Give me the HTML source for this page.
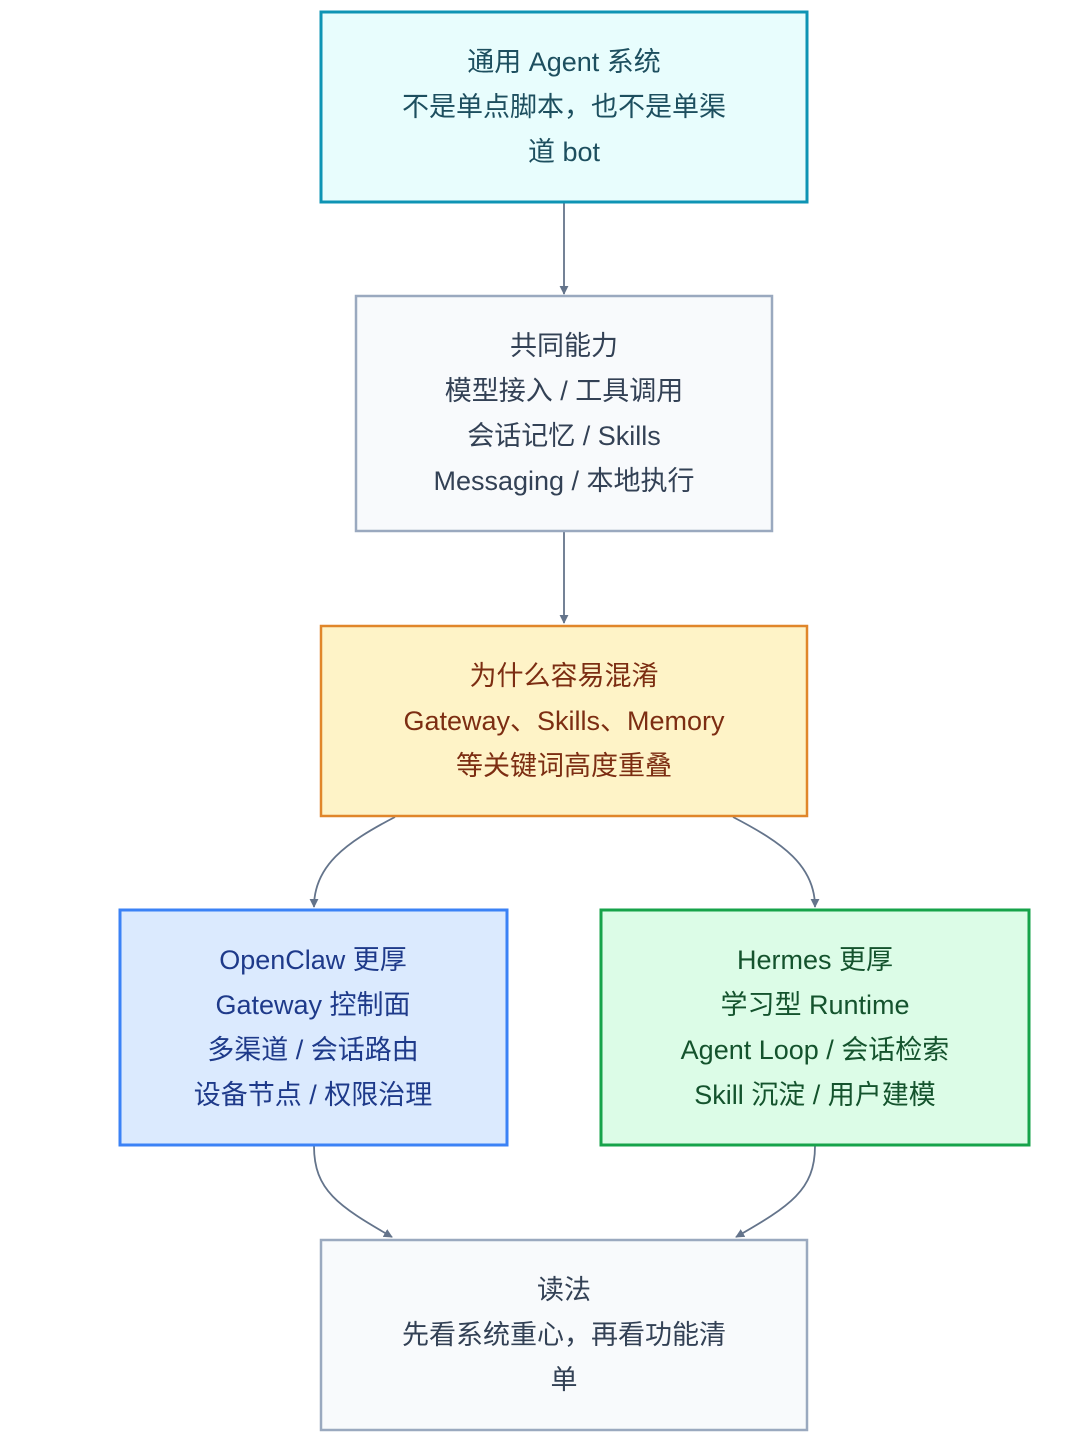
<!DOCTYPE html>
<html><head><meta charset="utf-8">
<style>
html,body{margin:0;padding:0;background:#fff;}
svg{display:block;}
text{font-family:"Liberation Sans","Noto Sans CJK SC",sans-serif;font-size:27px;text-anchor:middle;dominant-baseline:central;}
</style></head>
<body>
<svg width="1080" height="1447" viewBox="0 0 1080 1447" xmlns="http://www.w3.org/2000/svg">
<defs>
<marker id="a" viewBox="0 0 10 10" refX="9" refY="5" markerWidth="9" markerHeight="9" markerUnits="userSpaceOnUse" orient="auto">
<path d="M0,0 L10,5 L0,10 z" fill="#64748b"/>
</marker>
</defs>
<g fill="none" stroke="#64748b" stroke-width="1.8">
<path d="M564 203 L564 294" marker-end="url(#a)"/>
<path d="M564 532 L564 623" marker-end="url(#a)"/>
<path d="M395 817 C345 843 314 866 314 907" marker-end="url(#a)"/>
<path d="M733 817 C783 843 815 866 815 907" marker-end="url(#a)"/>
<path d="M314 1146 C314 1190 338 1206 392 1237" marker-end="url(#a)"/>
<path d="M815 1146 C815 1190 790 1206 736 1237" marker-end="url(#a)"/>
</g>
<rect x="321" y="12" width="486" height="190" fill="#e8fdfd" stroke="#0e94b4" stroke-width="3"/>
<rect x="356" y="296" width="416" height="235" fill="#f8fafc" stroke="#9aa9bf" stroke-width="2.5"/>
<rect x="321" y="626" width="486" height="190" fill="#fef3c7" stroke="#e0862a" stroke-width="2.5"/>
<rect x="120" y="910" width="387" height="235" fill="#dbeafe" stroke="#3b82f6" stroke-width="3"/>
<rect x="601" y="910" width="428" height="235" fill="#dcfce7" stroke="#16a34a" stroke-width="3"/>
<rect x="321" y="1240" width="486" height="190" fill="#f8fafc" stroke="#9aa9bf" stroke-width="2.5"/>
<g fill="#1d4f5f">
<text x="564" y="62">通用 Agent 系统</text>
<text x="564" y="107">不是单点脚本，也不是单渠</text>
<text x="564" y="152">道 bot</text>
</g>
<g fill="#334155">
<text x="564" y="346">共同能力</text>
<text x="564" y="391">模型接入 / 工具调用</text>
<text x="564" y="436">会话记忆 / Skills</text>
<text x="564" y="481">Messaging / 本地执行</text>
</g>
<g fill="#7c2d12">
<text x="564" y="676">为什么容易混淆</text>
<text x="564" y="721">Gateway、Skills、Memory</text>
<text x="564" y="766">等关键词高度重叠</text>
</g>
<g fill="#1e3a8a">
<text x="313" y="960">OpenClaw 更厚</text>
<text x="313" y="1005">Gateway 控制面</text>
<text x="313" y="1050">多渠道 / 会话路由</text>
<text x="313" y="1095">设备节点 / 权限治理</text>
</g>
<g fill="#14532d">
<text x="815" y="960">Hermes 更厚</text>
<text x="815" y="1005">学习型 Runtime</text>
<text x="815" y="1050">Agent Loop / 会话检索</text>
<text x="815" y="1095">Skill 沉淀 / 用户建模</text>
</g>
<g fill="#334155">
<text x="564" y="1290">读法</text>
<text x="564" y="1335">先看系统重心，再看功能清</text>
<text x="564" y="1380">单</text>
</g>
</svg>
</body></html>
